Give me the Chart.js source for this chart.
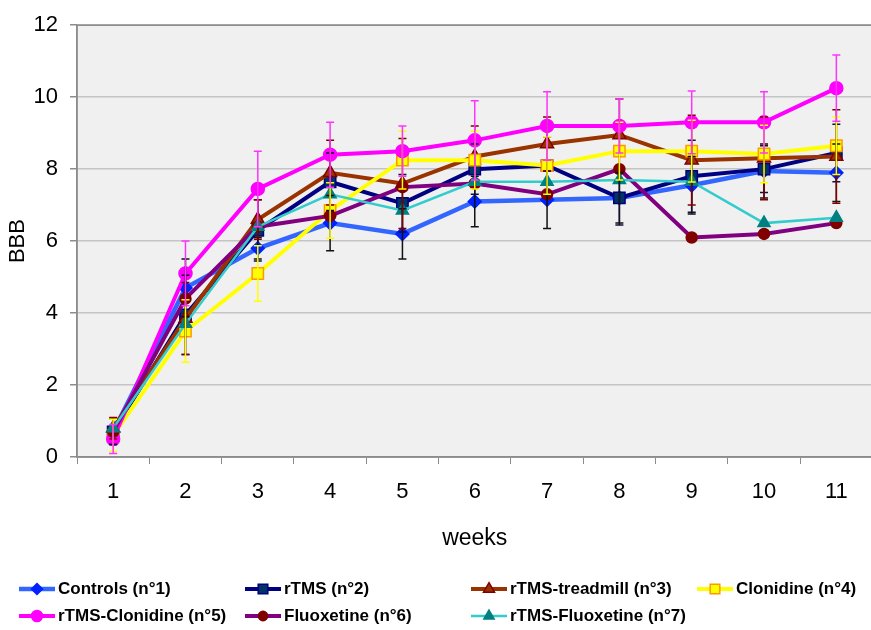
<!DOCTYPE html>
<html>
<head>
<meta charset="utf-8">
<script src="https://cdn.jsdelivr.net/npm/chart.js@4.4.1/dist/chart.umd.min.js"></script>
<style>
    html, body { margin: 0; padding: 0; background: #fff; overflow: hidden; }
    #box { width: 882px; height: 630px; }
</style>
</head>
<body>
<div id="box"><canvas id="grafico"></canvas></div>
<script>
var settimane = ['1', '2', '3', '4', '5', '6', '7', '8', '9', '10', '11'];
var tickY = [0, 2, 4, 6, 8, 10, 12];

var nomi = ['Controls (n°1)', 'rTMS (n°2)', 'rTMS-treadmill (n°3)', 'Clonidine (n°4)',
            'rTMS-Clonidine (n°5)', 'Fluoxetine (n°6)', 'rTMS-Fluoxetine (n°7)'];

var controls = [0.7, 4.7, 5.8, 6.5, 6.2, 7.1, 7.15, 7.2, 7.55, 7.95, 7.9];
var rtms = [0.7, 3.95, 6.3, 7.65, 7.05, 8.0, 8.1, 7.2, 7.8, 8.0, 8.45];
var treadmill = [0.8, 3.85, 6.6, 7.9, 7.6, 8.35, 8.7, 8.95, 8.25, 8.3, 8.35];
var clonidine = [0.6, 3.5, 5.1, 6.85, 8.25, 8.25, 8.1, 8.5, 8.5, 8.42, 8.65];
var rtmsClonidine = [0.5, 5.1, 7.45, 8.4, 8.5, 8.8, 9.2, 9.2, 9.3, 9.3, 10.25];
var fluoxetine = [0.7, 4.4, 6.4, 6.7, 7.5, 7.6, 7.3, 8.0, 6.1, 6.2, 6.5];
var rtmsFluoxetine = [0.8, 3.7, 6.4, 7.3, 6.85, 7.65, 7.65, 7.7, 7.65, 6.5, 6.65];

// barre d'errore (SEM)
var errControls = [0.35, 0.8, 0.3, 0.77, 0.7, 0.7, 0.8, 0.7, 0.8, 0.75, 0.8];
var errRtms = [0.35, 1.1, 0.85, 0.8, 0.8, 0.7, 0.8, 0.75, 1.0, 0.65, 0.8];
var errTreadmill = [0.3, 1.0, 0.55, 0.9, 1.25, 0.85, 0.75, 1.0, 1.25, 1.15, 1.3];
var errClonidine = [0.45, 0.87, 0.77, 0.77, 0.8, 0.8, 0.8, 0.8, 0.86, 0.8, 0.8];
var errRtmsClonidine = [0.4, 0.9, 1.05, 0.9, 0.7, 1.1, 0.95, 0.75, 0.87, 0.85, 0.92];

var FONT = "'Liberation Sans', Arial, sans-serif";

function serie(i, valori, errori, coloreLinea, spessore, stile, raggio, riempi, bordo, coloreErr) {
    return {
        label: nomi[i],
        data: valori,
        errori: errori,
        coloreErr: coloreErr,
        borderColor: coloreLinea,
        borderWidth: spessore,
        pointStyle: stile,
        pointRadius: raggio,
        pointBackgroundColor: riempi,
        pointBorderColor: bordo,
        pointBorderWidth: 1.5,
        tension: 0,
        fill: false,
        order: 10 - i
    };
}

var sfondoPlot = {
    id: 'sfondoPlot',
    beforeDraw: function(chart) {
        var a = chart.chartArea;
        var ctx = chart.ctx;
        ctx.save();
        ctx.fillStyle = '#f0f0f0';
        ctx.fillRect(a.left, a.top, a.right - a.left, a.bottom - a.top);
        ctx.restore();
    },
    afterDraw: function(chart) {
        var a = chart.chartArea;
        var ctx = chart.ctx;
        ctx.save();
        ctx.strokeStyle = '#8c8c8c';
        ctx.lineWidth = 1.5;
        ctx.strokeRect(a.left, a.top, a.right - a.left, a.bottom - a.top);
        ctx.restore();
    }
};

var barreErrore = {
    id: 'barreErrore',
    afterDatasetsDraw: function(chart) {
        var ctx = chart.ctx;
        var y = chart.scales.y;
        ctx.save();
        ctx.lineWidth = 1.5;
        chart.data.datasets.forEach(function(ds, d) {
            if (!ds.errori) return;
            var meta = chart.getDatasetMeta(d);
            ctx.strokeStyle = ds.coloreErr;
            for (var i = 0; i < ds.data.length; i++) {
                var px = meta.data[i].x;
                var alto = y.getPixelForValue(ds.data[i] + ds.errori[i]);
                var basso = y.getPixelForValue(Math.max(0, ds.data[i] - ds.errori[i]));
                ctx.beginPath();
                ctx.moveTo(px, alto);
                ctx.lineTo(px, basso);
                ctx.moveTo(px - 4, alto);
                ctx.lineTo(px + 4, alto);
                ctx.moveTo(px - 4, basso);
                ctx.lineTo(px + 4, basso);
                ctx.stroke();
            }
        });
        ctx.restore();
    }
};

var legenda = {
    id: 'legenda',
    afterDraw: function(chart) {
        var ctx = chart.ctx;
        ctx.save();
        ctx.font = 'bold 17px ' + FONT;
        ctx.textBaseline = 'middle';
        ctx.textAlign = 'left';
        chart.data.datasets.forEach(function(ds, i) {
            var x = 19 + (i % 4) * 226;
            var yy = 589 + Math.floor(i / 4) * 27;
            ctx.strokeStyle = ds.borderColor;
            ctx.lineWidth = ds.borderWidth;
            ctx.beginPath();
            ctx.moveTo(x, yy);
            ctx.lineTo(x + 36, yy);
            ctx.stroke();
            ctx.fillStyle = ds.pointBackgroundColor;
            ctx.strokeStyle = ds.pointBorderColor;
            ctx.lineWidth = 1.5;
            Chart.helpers.drawPoint(ctx, {
                pointStyle: ds.pointStyle,
                radius: ds.pointRadius * 0.85,
                rotation: 0,
                borderWidth: 1.5
            }, x + 18, yy);
            ctx.fillStyle = '#000';
            ctx.fillText(ds.label, x + 39, yy);
        });
        ctx.restore();
    }
};

var ctx = document.getElementById('grafico');
var grafico = new Chart(ctx, {
    type: 'line',
    data: {
        labels: settimane,
        datasets: [
            serie(0, controls, errControls, '#3366ff', 4.5, 'rectRot', 6.5, '#0022ff', '#0022ff', '#111111'),
            serie(1, rtms, errRtms, '#000080', 4, 'rect', 8, '#003366', '#000080', '#111133'),
            serie(2, treadmill, errTreadmill, '#993300', 4, 'triangle', 7.5, '#993300', '#800000', '#800000'),
            serie(3, clonidine, errClonidine, '#ffff00', 4, 'rect', 8, '#ffff00', '#ff9900', '#ffff00'),
            serie(4, rtmsClonidine, errRtmsClonidine, '#ff00ff', 4, 'circle', 6.5, '#ff00ff', '#ff00ff', '#ff33ff'),
            serie(5, fluoxetine, null, '#800080', 4, 'circle', 5.5, '#800000', '#800000', null),
            serie(6, rtmsFluoxetine, null, '#33cccc', 2.5, 'triangle', 7, '#008080', '#008080', null)
        ]
    },
    options: {
        responsive: true,
        maintainAspectRatio: false,
        animation: false,
        layout: { padding: { left: 0, right: 2, top: 22, bottom: 73 } },
        plugins: {
            legend: { display: false },
            tooltip: { enabled: false }
        },
        scales: {
            x: {
                offset: true,
                grid: {
                    offset: true,
                    drawOnChartArea: false,
                    drawTicks: true,
                    tickLength: 7,
                    tickColor: '#8c8c8c'
                },
                border: { color: '#8c8c8c', width: 1.5 },
                ticks: {
                    color: '#000',
                    padding: 15,
                    font: { family: FONT, size: 22 },
                    maxRotation: 0
                },
                title: {
                    display: true,
                    text: 'weeks',
                    color: '#000',
                    font: { family: FONT, size: 23 },
                    padding: { top: 4, bottom: 5 }
                },
                afterFit: function(scale) { scale.height = 100; }
            },
            y: {
                min: 0,
                max: 12,
                afterBuildTicks: function(scale) {
                    scale.ticks = tickY.map(function(v) { return { value: v }; });
                },
                grid: {
                    color: '#c4c4c4',
                    lineWidth: 1.5,
                    tickLength: 7,
                    tickColor: '#8c8c8c'
                },
                border: { color: '#8c8c8c', width: 1.5 },
                ticks: {
                    color: '#000',
                    padding: 12,
                    font: { family: FONT, size: 22 }
                },
                title: {
                    display: true,
                    text: 'BBB',
                    color: '#000',
                    font: { family: FONT, size: 22 },
                    padding: { top: 5, bottom: 0 }
                },
                afterFit: function(scale) { scale.width = 77; }
            }
        }
    },
    plugins: [sfondoPlot, barreErrore, legenda]
});
</script>
</body>
</html>
